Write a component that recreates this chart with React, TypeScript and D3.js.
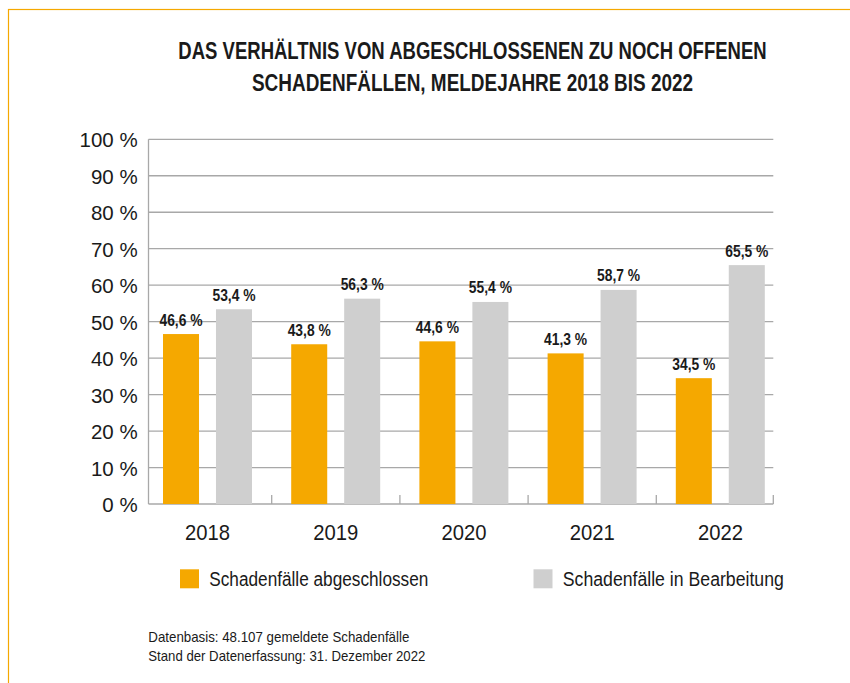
import React from "react";
import * as d3 from "d3";

const years = ["2018", "2019", "2020", "2021", "2022"];
const closedValues = [46.6, 43.8, 44.6, 41.3, 34.5];
const openValues = [53.4, 56.3, 55.4, 58.7, 65.5];
const seriesNames = ["Schadenfälle abgeschlossen", "Schadenfälle in Bearbeitung"];
const seriesColors = ["#F5A800", "#CFCFCF"];
const yTickValues = [0, 10, 20, 30, 40, 50, 60, 70, 80, 90, 100];
const titleLines = [
  "DAS VERHÄLTNIS VON ABGESCHLOSSENEN ZU NOCH OFFENEN",
  "SCHADENFÄLLEN, MELDEJAHRE 2018 BIS 2022",
];
const footnoteLines = [
  "Datenbasis: 48.107 gemeldete Schadenfälle",
  "Stand der Datenerfassung: 31. Dezember 2022",
];

const FONT = "'Liberation Sans', Arial, Helvetica, sans-serif";

// horizontally condensed text (the reference uses a condensed face)
function CText(props: { x: number; y: number; sx: number; anchor?: string; size: number; bold?: boolean; children: string }) {
  const { x, y, sx, anchor, size, bold, children } = props;
  return (
    <text transform={`translate(${x},${y}) scale(${sx},1)`} textAnchor={anchor || "start"} fontFamily={FONT}
      fontWeight={bold ? "bold" : "normal"} fontSize={size} fill="#1a1a1a">{children}</text>
  );
}

export default function App() {
  const W = 850, H = 683;
  const plotLeft = 148.5, plotRight = 773.3, plotTop = 139.3, plotBottom = 504;
  const y = d3.scaleLinear().domain([0, 100]).range([plotBottom, plotTop]);
  const x0 = d3.scaleBand<string>().domain(years).range([143.5, 784.5]).padding(0);
  const x1 = d3.scaleBand<number>().domain([0, 1]).range([19.5, 108.5]).paddingInner(0.32).paddingOuter(0);
  const fmt = (v: number) => d3.format(".1f")(v).replace(".", ",") + " %";
  const series = [closedValues, openValues];
  const gridColor = "#A8A8A8";
  const titleScale = [0.772, 0.79];

  return (
    <svg width={W} height={H} style={{ position: "absolute", left: 0, top: 0, background: "#fff" }}>
      <rect x={8.5} y={9.5} width={900} height={800} fill="none" stroke="#F5A800" strokeWidth={1.2} />
      {titleLines.map((t, i) => (
        <CText key={t} x={472.5} y={59 + i * 32} sx={titleScale[i]} anchor="middle" size={24} bold>{t}</CText>
      ))}
      {yTickValues.map((v) => (
        <g key={v}>
          <line x1={plotLeft} x2={plotRight} y1={y(v)} y2={y(v)} stroke={gridColor} strokeWidth={1.3} />
          <text x={137.7} y={y(v) + 8} textAnchor="end" fontFamily={FONT} fontSize={20.5} fill="#1a1a1a">{v} %</text>
        </g>
      ))}
      <line x1={plotLeft} x2={plotLeft} y1={plotTop} y2={plotBottom} stroke={gridColor} strokeWidth={1.3} />
      {years.slice(1).map((yr) => (
        <line key={yr} x1={x0(yr)!} x2={x0(yr)!} y1={plotBottom} y2={plotBottom - 9} stroke={gridColor} strokeWidth={1.3} />
      ))}
      <line x1={plotRight} x2={plotRight} y1={plotBottom} y2={plotBottom - 9} stroke={gridColor} strokeWidth={1.3} />
      {years.map((yr, i) => (
        <g key={yr} transform={`translate(${x0(yr)},0)`}>
          {series.map((vals, s) => (
            <g key={s}>
              <rect x={x1(s)!} y={y(vals[i])} width={x1.bandwidth()} height={plotBottom - y(vals[i])} fill={seriesColors[s]} />
              <CText x={x1(s)! + x1.bandwidth() / 2} y={y(vals[i]) - 8.5} sx={0.84} anchor="middle" size={16.5} bold>
                {fmt(vals[i])}
              </CText>
            </g>
          ))}
          <CText x={x0.bandwidth() / 2} y={540} sx={0.9} anchor="middle" size={22.5}>{yr}</CText>
        </g>
      ))}
      {seriesNames.map((n, s) => (
        <g key={n} transform={`translate(${s === 0 ? 180 : 533.5},569.3)`}>
          <rect x={0} y={0} width={19} height={19} fill={seriesColors[s]} />
          <text x={29.3} y={16.7} fontFamily={FONT} fontSize={20} fill="#1a1a1a"
            textLength={s === 0 ? 219 : 221} lengthAdjust="spacingAndGlyphs">{n}</text>
        </g>
      ))}
      {footnoteLines.map((t, i) => (
        <text key={t} x={148.3} y={641.5 + i * 19.5} fontFamily={FONT} fontSize={15} fill="#1a1a1a"
          textLength={i === 0 ? 261 : 277} lengthAdjust="spacingAndGlyphs">{t}</text>
      ))}
    </svg>
  );
}
